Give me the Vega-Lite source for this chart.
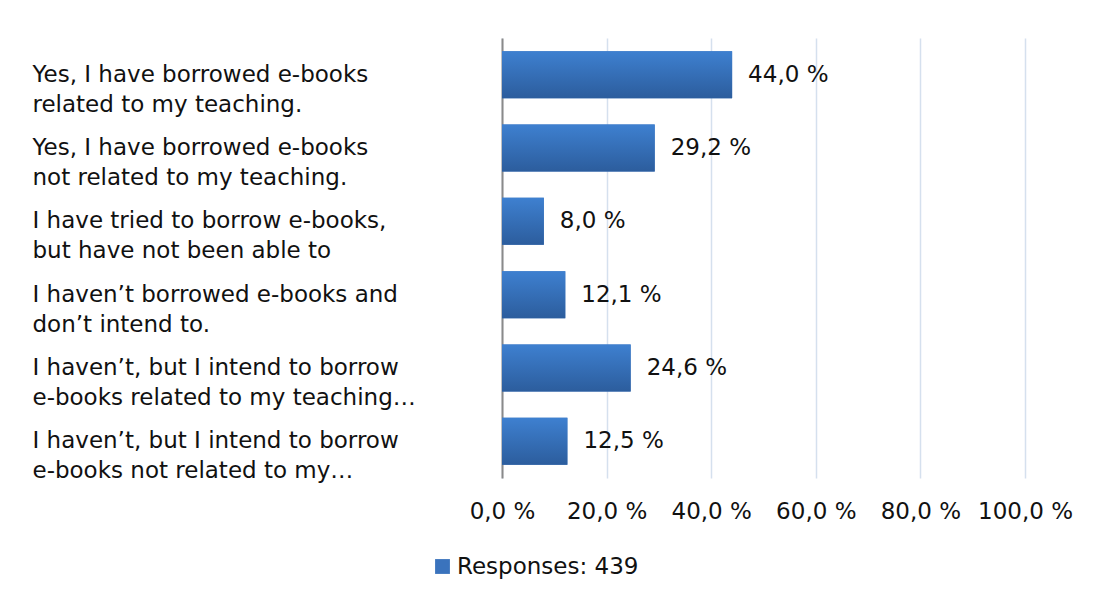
{
  "$schema": "https://vega.github.io/schema/vega-lite/v6.json",
  "autosize": "none",
  "width": 523,
  "height": 440,
  "padding": {"left": 502, "top": 38, "right": 77, "bottom": 116},
  "background": "white",
  "data": {
    "values": [
      {"answer": "Yes, I have borrowed e-books\nrelated to my teaching.", "value": 44.0, "label": "44,0 %", "series": "Responses: 439"},
      {"answer": "Yes, I have borrowed e-books\nnot related to my teaching.", "value": 29.2, "label": "29,2 %", "series": "Responses: 439"},
      {"answer": "I have tried to borrow e-books,\nbut have not been able to", "value": 8.0, "label": "8,0 %", "series": "Responses: 439"},
      {"answer": "I haven’t borrowed e-books and\ndon’t intend to.", "value": 12.1, "label": "12,1 %", "series": "Responses: 439"},
      {"answer": "I haven’t, but I intend to borrow\ne-books related to my teaching…", "value": 24.6, "label": "24,6 %", "series": "Responses: 439"},
      {"answer": "I haven’t, but I intend to borrow\ne-books not related to my…", "value": 12.5, "label": "12,5 %", "series": "Responses: 439"}
    ]
  },
  "encoding": {
    "y": {
      "field": "answer",
      "type": "nominal",
      "sort": null,
      "scale": {"paddingInner": 0.36, "paddingOuter": 0.18},
      "axis": {
        "title": null,
        "labelExpr": "split(datum.label, '\\n')",
        "labelAlign": "left",
        "labelBaseline": "middle",
        "labelPadding": 470,
        "labelLineHeight": 30,
        "labelFont": "DejaVu Sans",
        "labelFontSize": 23,
        "labelColor": "#111111",
        "labelLimit": 0,
        "ticks": false,
        "domainColor": "#8a8a8a",
        "domainWidth": 2,
        "grid": false
      }
    }
  },
  "layer": [
    {
      "mark": {"type": "bar", "opacity": 1},
      "encoding": {
        "x": {
          "field": "value",
          "type": "quantitative",
          "scale": {"domain": [0, 100], "nice": false},
          "axis": {
            "title": null,
            "values": [0, 20, 40, 60, 80, 100],
            "labelExpr": "replace(format(datum.value, '.1f'), '.', ',') + ' %'",
            "labelFont": "DejaVu Sans",
            "labelFontSize": 23,
            "labelColor": "#111111",
            "labelPadding": 22,
            "labelOverlap": false,
            "labelFlush": false,
            "domain": false,
            "ticks": false,
            "grid": true,
            "gridColor": "#d5e0ee",
            "gridWidth": 1.5
          }
        },
        "fill": {
          "field": "series",
          "type": "nominal",
          "scale": {"range": ["#3a73bd"]},
          "legend": {
            "title": null,
            "orient": "none",
            "legendX": -71,
            "legendY": 517,
            "symbolType": "square",
            "symbolSize": 220,
            "symbolStrokeWidth": 0,
            "labelFont": "DejaVu Sans",
            "labelFontSize": 23,
            "labelColor": "#111111",
            "labelLimit": 0,
            "labelOffset": 3
          }
        }
      }
    },
    {
      "mark": {
        "type": "bar",
        "color": {
          "gradient": "linear",
          "x1": 0, "y1": 0, "x2": 0, "y2": 1,
          "stops": [
            {"offset": 0, "color": "#3e80d0"},
            {"offset": 1, "color": "#2c5d9d"}
          ]
        }
      },
      "encoding": {
        "x": {"field": "value", "type": "quantitative"}
      }
    },
    {
      "mark": {
        "type": "text",
        "align": "left",
        "baseline": "middle",
        "dx": 16,
        "font": "DejaVu Sans",
        "fontSize": 23,
        "color": "#111111"
      },
      "encoding": {
        "x": {"field": "value", "type": "quantitative"},
        "text": {"field": "label"}
      }
    }
  ],
  "config": {"view": {"stroke": null}}
}
